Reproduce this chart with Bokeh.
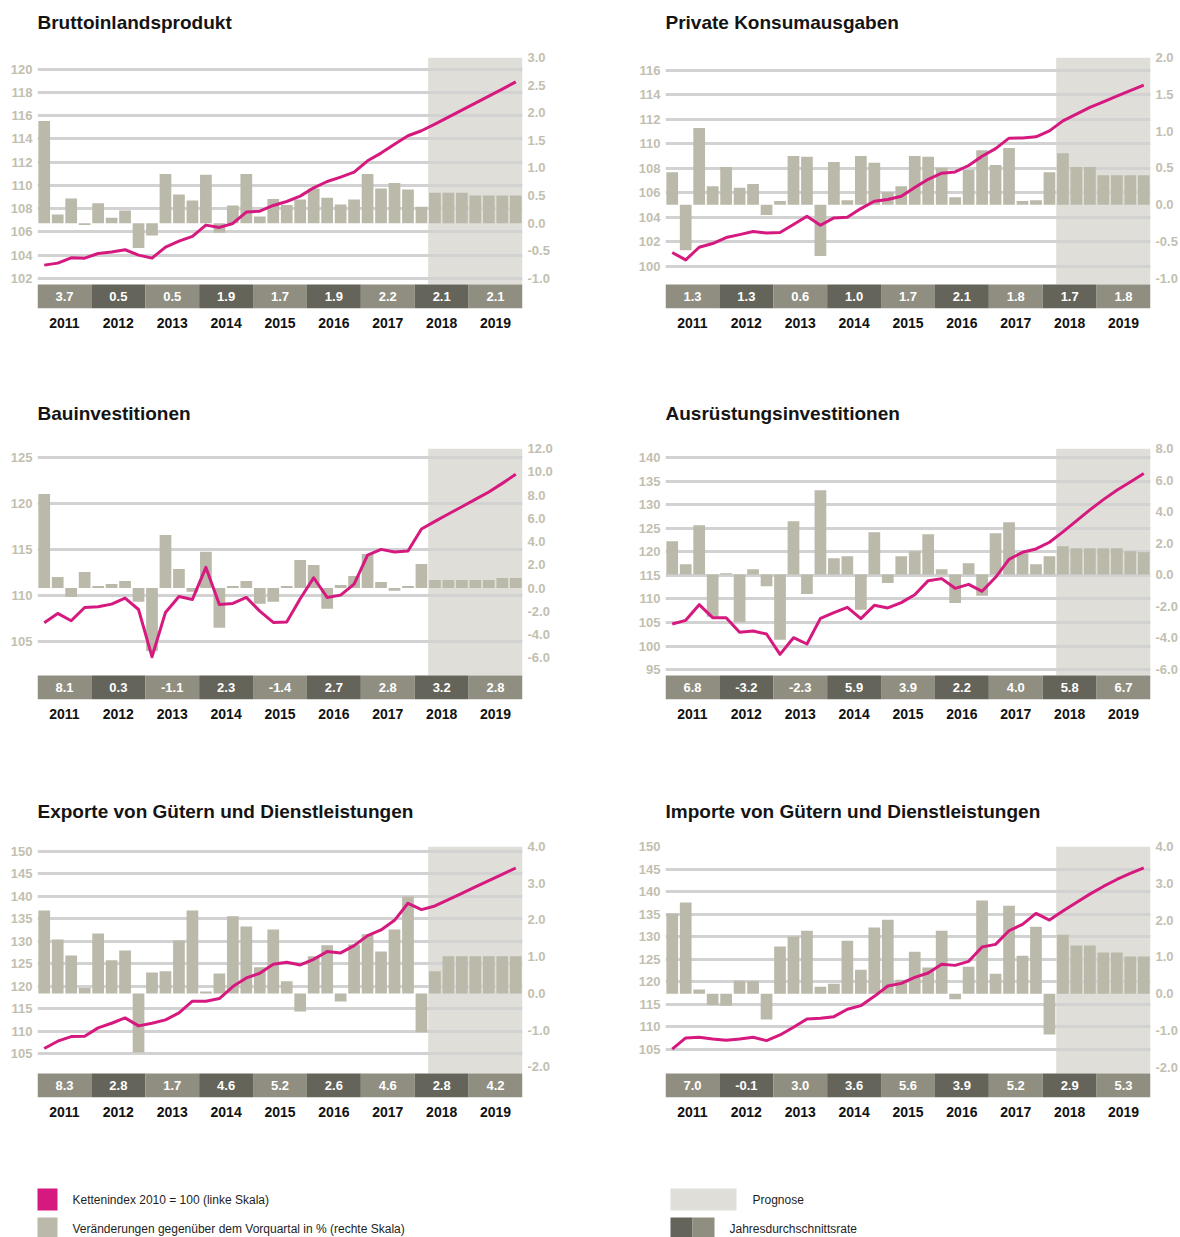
from bokeh.plotting import figure
from bokeh.models import Range1d, LinearAxis, FixedTicker, PrintfTickFormatter, CustomJSTickFormatter, Title
from bokeh.layouts import row, column
from bokeh.embed import file_html
from bokeh.resources import INLINE
from bokeh.core.properties import value

# ---------------- data ----------------
years = ["2011", "2012", "2013", "2014", "2015", "2016", "2017", "2018", "2019"]
quarters = list(range(36))          # 2011Q1 ... 2019Q4
forecast_first = 29                 # 2018Q2 = first forecast quarter

bip_index = [103.15, 103.32, 103.78, 103.75, 104.15, 104.27, 104.47, 104.01, 103.75, 104.70, 105.21, 105.62,
             106.59, 106.39, 106.73, 107.71, 107.79, 108.28, 108.62, 109.08, 109.80, 110.34, 110.72, 111.15,
             112.12, 112.78, 113.55, 114.27, 114.70, 115.27, 115.87, 116.48, 117.08, 117.68, 118.28, 118.91]
bip_change = [1.85, 0.16, 0.45, -0.03, 0.36, 0.10, 0.23, -0.45, -0.22, 0.89, 0.52, 0.41,
              0.88, -0.17, 0.32, 0.89, 0.12, 0.44, 0.33, 0.43, 0.63, 0.46, 0.34, 0.43,
              0.89, 0.63, 0.73, 0.61, 0.30, 0.55, 0.55, 0.55, 0.50, 0.50, 0.50, 0.50]
bip_annual = [3.7, 0.5, 0.5, 1.9, 1.7, 1.9, 2.2, 2.1, 2.1]

kons_index = [101.14, 100.54, 101.57, 101.87, 102.36, 102.60, 102.85, 102.74, 102.77, 103.42, 104.10, 103.36,
              103.96, 104.02, 104.72, 105.32, 105.46, 105.73, 106.43, 107.11, 107.60, 107.71, 108.23, 108.99,
              109.61, 110.46, 110.48, 110.57, 111.05, 111.87, 112.41, 112.96, 113.42, 113.88, 114.34, 114.78]
kons_change = [0.44, -0.62, 1.04, 0.25, 0.51, 0.23, 0.28, -0.14, 0.05, 0.66, 0.65, -0.70,
               0.58, 0.06, 0.66, 0.57, 0.17, 0.25, 0.66, 0.65, 0.50, 0.10, 0.47, 0.74,
               0.54, 0.77, 0.05, 0.06, 0.44, 0.70, 0.51, 0.51, 0.40, 0.40, 0.40, 0.40]
kons_annual = [1.3, 1.3, 0.6, 1.0, 1.7, 2.1, 1.8, 1.7, 1.8]

bau_index = [107.07, 108.08, 107.28, 108.73, 108.80, 109.09, 109.75, 108.51, 103.37, 108.19, 109.93, 109.60,
             113.08, 109.06, 109.17, 109.82, 108.33, 107.10, 107.14, 109.67, 111.96, 109.82, 110.07, 111.27,
             114.42, 115.04, 114.75, 114.86, 117.25, 118.08, 118.88, 119.67, 120.47, 121.27, 122.21, 123.19]
bau_change = [8.08, 0.95, -0.77, 1.38, 0.17, 0.34, 0.60, -1.17, -5.40, 4.56, 1.63, -0.32,
              3.12, -3.41, 0.17, 0.60, -1.35, -1.17, 0.17, 2.41, 1.98, -1.78, 0.26, 1.03,
              2.92, 0.52, -0.23, 0.17, 2.06, 0.69, 0.69, 0.69, 0.69, 0.69, 0.86, 0.86]
bau_annual = [8.1, 0.3, -1.1, 2.3, -1.4, 2.7, 2.8, 3.2, 2.8]

ausr_index = [104.68, 105.46, 108.79, 106.03, 106.03, 102.91, 103.19, 102.55, 98.23, 101.77, 100.43, 105.89,
              107.09, 108.23, 105.82, 108.65, 108.09, 109.22, 110.92, 113.90, 114.33, 112.27, 113.12, 111.63,
              114.61, 118.44, 119.93, 120.64, 122.06, 124.26, 126.60, 128.94, 131.13, 133.12, 134.89, 136.67]
ausr_change = [2.11, 0.66, 3.13, -2.68, 0.08, -3.02, 0.34, -0.74, -4.14, 3.38, -1.23, 5.35,
               1.04, 1.16, -2.24, 2.68, -0.53, 1.16, 1.48, 2.56, 0.34, -1.80, 0.72, -1.35,
               2.62, 3.32, 1.35, 0.66, 1.16, 1.80, 1.67, 1.67, 1.67, 1.67, 1.48, 1.42]
ausr_annual = [6.8, -3.2, -2.3, 5.9, 3.9, 2.2, 4.0, 5.8, 6.7]

exp_index = [106.11, 107.74, 108.77, 108.85, 110.70, 111.73, 112.92, 111.14, 111.73, 112.47, 114.03, 116.62,
             116.62, 117.21, 119.87, 121.80, 122.84, 124.83, 125.28, 124.69, 125.94, 127.65, 127.35, 128.98,
             131.20, 132.46, 134.60, 138.38, 136.97, 137.79, 139.19, 140.60, 142.01, 143.41, 144.82, 146.22]
exp_change = [2.26, 1.47, 1.03, 0.15, 1.63, 0.90, 1.17, -1.61, 0.57, 0.60, 1.44, 2.26,
              0.05, 0.54, 2.10, 1.82, 0.71, 1.74, 0.33, -0.49, 1.01, 1.31, -0.22, 1.33,
              1.61, 1.14, 1.74, 2.64, -1.06, 0.60, 1.01, 1.01, 1.01, 1.01, 1.01, 1.01]
exp_annual = [8.3, 2.8, 1.7, 4.6, 5.2, 2.6, 4.6, 2.8, 4.2]

imp_index = [105.00, 107.50, 107.65, 107.28, 106.98, 107.28, 107.65, 106.91, 108.17, 109.87, 111.71, 111.86,
             112.23, 113.86, 114.67, 116.74, 119.03, 119.62, 120.95, 121.91, 123.84, 123.61, 124.50, 127.68,
             128.27, 131.30, 132.71, 135.14, 133.67, 135.66, 137.58, 139.43, 141.13, 142.68, 144.01, 145.27]
imp_change = [2.18, 2.48, 0.11, -0.31, -0.33, 0.35, 0.34, -0.70, 1.28, 1.55, 1.71, 0.19,
              0.27, 1.44, 0.65, 1.80, 2.01, 0.38, 1.14, 0.71, 1.71, -0.15, 0.73, 2.53,
              0.54, 2.39, 1.03, 1.82, -1.11, 1.60, 1.31, 1.31, 1.12, 1.12, 1.01, 1.01]
imp_annual = [7.0, -0.1, 3.0, 3.6, 5.6, 3.9, 5.2, 2.9, 5.3]

titles = ["Bruttoinlandsprodukt", "Private Konsumausgaben", "Bauinvestitionen",
          "Ausrüstungsinvestitionen", "Exporte von Gütern und Dienstleistungen",
          "Importe von Gütern und Dienstleistungen"]

left_ticks = [
    [102, 104, 106, 108, 110, 112, 114, 116, 118, 120],
    [100, 102, 104, 106, 108, 110, 112, 114, 116],
    [105, 110, 115, 120, 125],
    [95, 100, 105, 110, 115, 120, 125, 130, 135, 140],
    [105, 110, 115, 120, 125, 130, 135, 140, 145, 150],
    [105, 110, 115, 120, 125, 130, 135, 140, 145, 150],
]
right_ticks = [
    [-1.0, -0.5, 0.0, 0.5, 1.0, 1.5, 2.0, 2.5, 3.0],
    [-1.0, -0.5, 0.0, 0.5, 1.0, 1.5, 2.0],
    [-6.0, -4.0, -2.0, 0.0, 2.0, 4.0, 6.0, 8.0, 10.0, 12.0],
    [-6.0, -4.0, -2.0, 0.0, 2.0, 4.0, 6.0, 8.0],
    [-2.0, -1.0, 0.0, 1.0, 2.0, 3.0, 4.0],
    [-2.0, -1.0, 0.0, 1.0, 2.0, 3.0, 4.0],
]
# axis ranges (left = index, right = % change); bottom includes the annual band
left_ranges = [(99.42, 121.0), (96.58, 117.03), (98.73, 126.0), (88.63, 142.0), (95.23, 151.0), (94.28, 150.0)]
right_ranges = [(-1.543, 3.0), (-1.412, 2.0), (-9.58, 12.0), (-7.93, 8.0), (-2.835, 4.0), (-2.824, 4.0)]

# ---------------- style ----------------
FONT = "Liberation Sans"
MAGENTA = "#d6197f"
BAR = "#bbb9aa"
SHADE = "#dfded8"
GRID = "#d2d2d2"
BAND_LIGHT = "#8f8e80"
BAND_DARK = "#64645a"
AXIS_TXT = "#c2bfb1"
FRAME_H = 251
BAND_H = 24
TOP = 57


def style_axis(ax, color, size="13px", standoff=5):
    ax.axis_line_color = None
    ax.major_tick_line_color = None
    ax.minor_tick_line_color = None
    ax.major_tick_out = 0
    ax.major_tick_in = 0
    ax.minor_tick_out = 0
    ax.minor_tick_in = 0
    ax.major_label_standoff = standoff
    ax.major_label_text_font = FONT
    ax.major_label_text_font_style = "bold"
    ax.major_label_text_font_size = size
    ax.major_label_text_color = color


def panel(i, idx, chg, annual, left_col, height):
    bl, br, w = (37, 86, 608) if left_col else (57, 30, 572)
    lo, hi = left_ranges[i]
    p = figure(width=w, height=height, output_backend="svg", toolbar_location=None, title=None,
               x_range=Range1d(-0.5, 35.5), y_range=Range1d(lo, hi),
               min_border_left=bl, min_border_right=br, min_border_top=TOP,
               min_border_bottom=height - TOP - FRAME_H,
               outline_line_color=None, background_fill_color="white", border_fill_color="white")
    p.extra_y_ranges = {"chg": Range1d(*right_ranges[i])}
    band_top = lo + (hi - lo) * BAND_H / FRAME_H

    # forecast shading (below the grid)
    p.quad(left=[forecast_first - 0.5], right=[quarters[-1] + 0.5], bottom=[band_top], top=[hi],
           fill_color=SHADE, line_color=None, level="image")

    # quarterly change bars (right scale)
    p.vbar(x=quarters, top=chg, bottom=0, width=0.87, y_range_name="chg",
           fill_color=BAR, line_color=None)
    # chain index line (left scale)
    p.line(quarters, idx, line_color=MAGENTA, line_width=3, line_join="round")

    # annual average band
    starts = [4 * k for k in range(len(years))]
    p.quad(left=[s - 0.5 for s in starts], right=[s + 3.5 for s in starts],
           bottom=[lo] * len(years), top=[band_top] * len(years),
           fill_color=[BAND_LIGHT if k % 2 == 0 else BAND_DARK for k in range(len(years))],
           line_color=None)
    p.text(x=[s + 1.5 for s in starts], y=[(lo + band_top) / 2] * len(years),
           text=[f"{v:.1f}" for v in annual], text_color="white",
           text_font=value(FONT), text_font_style="bold", text_font_size="13px",
           text_align="center", text_baseline="middle")

    # axes
    p.yaxis.ticker = FixedTicker(ticks=left_ticks[i])
    style_axis(p.yaxis[0], AXIS_TXT)
    rax = LinearAxis(y_range_name="chg", ticker=FixedTicker(ticks=right_ticks[i]),
                     formatter=PrintfTickFormatter(format="%.1f"))
    style_axis(rax, AXIS_TXT)
    p.add_layout(rax, "right")

    p.xaxis.ticker = FixedTicker(ticks=[s + 1.5 for s in starts])
    p.xaxis.formatter = CustomJSTickFormatter(args=dict(years=years),
                                              code="return years[Math.round((tick - 1.5) / 4)];")
    style_axis(p.xaxis[0], "#111111", size="14px", standoff=9)

    p.xgrid.visible = False
    p.ygrid.ticker = FixedTicker(ticks=left_ticks[i])
    p.ygrid.grid_line_color = GRID
    p.ygrid.grid_line_width = 3

    # spacer (nearest to frame) + panel title above it
    p.add_layout(Title(text=" ", text_font_size="1px", standoff=13), "above")
    p.add_layout(Title(text=titles[i], text_font=FONT, text_font_size="19px",
                       text_font_style="bold", text_color="#141414",
                       align="left", offset=0, standoff=17), "above")
    return p


p1 = panel(0, bip_index, bip_change, bip_annual, True, 391)
p2 = panel(1, kons_index, kons_change, kons_annual, False, 391)
p3 = panel(2, bau_index, bau_change, bau_annual, True, 398)
p4 = panel(3, ausr_index, ausr_change, ausr_annual, False, 398)
p5 = panel(4, exp_index, exp_change, exp_annual, True, 381)
p6 = panel(5, imp_index, imp_change, imp_annual, False, 381)

# ---------------- legend ----------------
leg = figure(width=1180, height=67, output_backend="svg", toolbar_location=None, title=None,
             x_range=Range1d(0, 1180), y_range=Range1d(1237, 1170),
             x_axis_type=None, y_axis_type=None, min_border=0,
             min_border_left=0, min_border_right=0, min_border_top=0, min_border_bottom=0,
             outline_line_color=None, background_fill_color="white", border_fill_color="white")
leg.grid.visible = False
leg.quad(left=[37, 37, 670, 670, 692], right=[57, 57, 736, 692, 714],
         bottom=[1210, 1237, 1210, 1237, 1237], top=[1188, 1217, 1188, 1217, 1217],
         fill_color=[MAGENTA, BAR, SHADE, BAND_DARK, BAND_LIGHT], line_color=None)
leg.text(x=[72, 72, 752, 729], y=[1199, 1228, 1199, 1228],
         text=["Kettenindex 2010 = 100 (linke Skala)",
               "Veränderungen gegenüber dem Vorquartal in % (rechte Skala)",
               "Prognose", "Jahresdurchschnittsrate"],
         text_color="#1e1e1e", text_font=value(FONT), text_font_size="12px",
         text_align="left", text_baseline="middle")

layout = column(row(p1, p2), row(p3, p4), row(p5, p6), leg)
open("out.html", "w").write(file_html(layout, INLINE))
